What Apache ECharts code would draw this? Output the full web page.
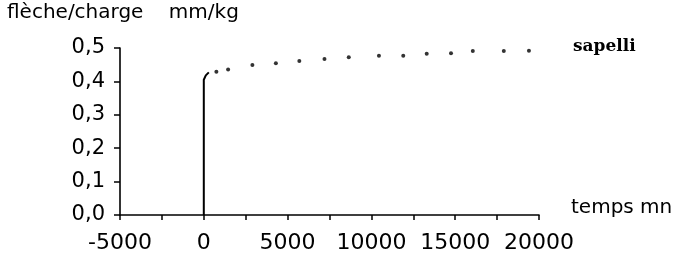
<!DOCTYPE html>
<html>
<head>
<meta charset="utf-8">
<script src="https://cdn.jsdelivr.net/npm/echarts@6/dist/echarts.min.js"></script>
<style>
  html, body { margin: 0; padding: 0; background: #fff; }
  #chart { width: 676px; height: 262px; }
</style>
</head>
<body>
<div id="chart"></div>
<script>
// jump at t = 0 (drawn as a line)
const jumpT = [0, 0, 120, 300];
const jumpV = [0, 0.405, 0.418, 0.427];
// creep points (dotted)
const creepT = [750, 1450, 2900, 4300, 5700, 7200, 8650, 10450, 11900, 13300, 14750, 16050, 17900, 19400];
const creepV = [0.429, 0.436, 0.449, 0.454, 0.461, 0.467, 0.472, 0.477, 0.477, 0.483, 0.484, 0.491, 0.491, 0.492];

const yTitle = "flèche/charge    mm/kg";
const xTitle = "temps mn";
const seriesLabel = "sapelli";

const chart = echarts.init(document.getElementById("chart"));
const option = {
  animation: false,
  backgroundColor: "#fff",
  grid: {
    left: 120,
    right: 137,
    top: 48,
    bottom: 47,
    containLabel: false,
  },
  xAxis: {
    type: "value",
    min: -5000,
    max: 20000,
    interval: 5000,
    splitLine: { show: false },
    axisLine: { onZero: false, lineStyle: { color: "#000", width: 1.6 } },
    axisTick: { length: 5, lineStyle: { color: "#000", width: 1.5 } },
    minorTick: { show: true, splitNumber: 2, length: 5, lineStyle: { color: "#000", width: 1.5 } },
    axisLabel: {
      color: "#000",
      fontFamily: "DejaVu Sans",
      fontSize: 22,
      margin: 17,
      formatter: (v) => String(v),
    },
  },
  yAxis: {
    type: "value",
    min: 0,
    max: 0.5,
    interval: 0.1,
    splitLine: { show: false },
    axisLine: { show: true, onZero: false, lineStyle: { color: "#000", width: 1.6 } },
    axisTick: { show: true, length: 6, lineStyle: { color: "#000", width: 1.5 } },
    axisLabel: {
      color: "#000",
      fontFamily: "DejaVu Sans",
      fontSize: 21,
      margin: 15,
      formatter: (v) => v.toFixed(1).replace(".", ","),
    },
  },
  graphic: [
    {
      type: "text",
      left: 7,
      top: 3,
      style: { text: yTitle, font: "20px 'DejaVu Sans'", fill: "#000" },
    },
    {
      type: "text",
      left: 571,
      top: 198,
      style: { text: xTitle, font: "20px 'DejaVu Sans'", fill: "#000" },
    },
    {
      type: "text",
      left: 573,
      top: 38,
      style: { text: seriesLabel, font: "bold 17px 'DejaVu Serif'", fill: "#000" },
    },
  ],
  series: [
    {
      type: "line",
      data: jumpT.map((t, i) => [t, jumpV[i]]),
      showSymbol: false,
      lineStyle: { color: "#000", width: 2 },
    },
    {
      type: "scatter",
      data: creepT.map((t, i) => [t, creepV[i]]),
      symbolSize: 4,
      itemStyle: { color: "#000" },
    },
  ],
};
chart.setOption(option);
</script>
</body>
</html>
